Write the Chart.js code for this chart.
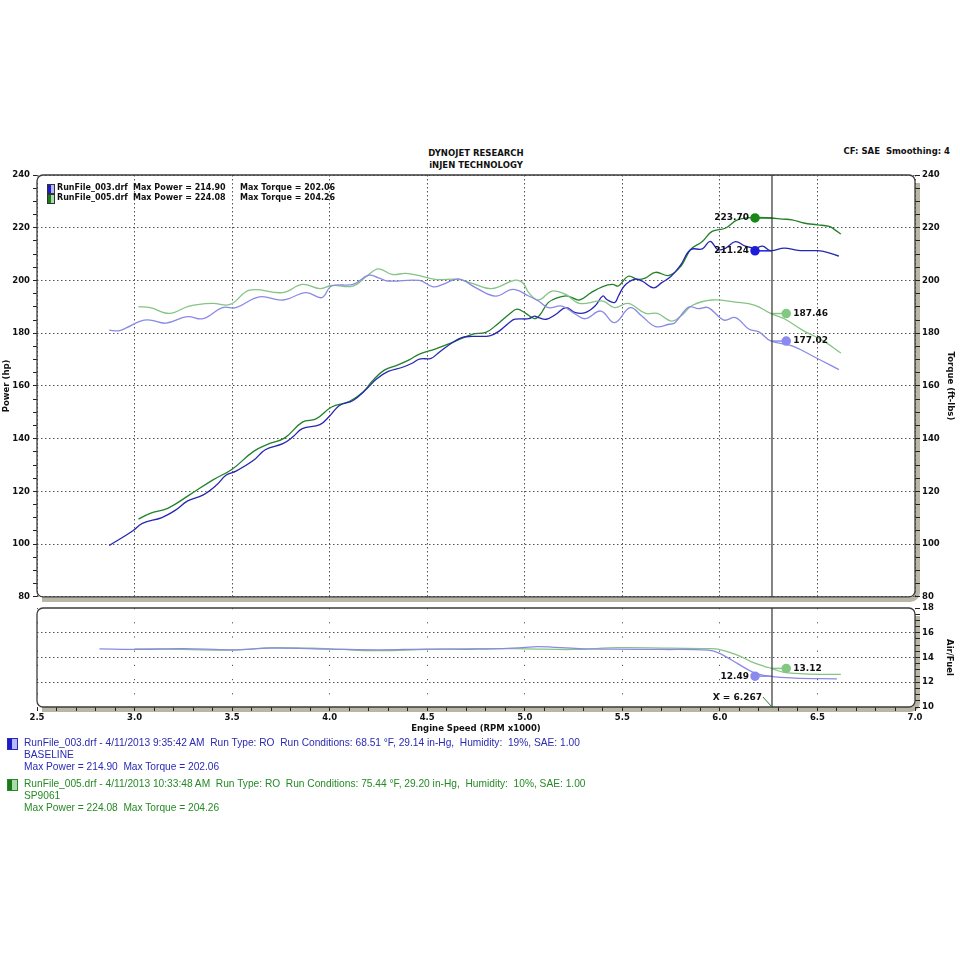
<!DOCTYPE html>
<html>
<head>
<meta charset="utf-8">
<script src="https://cdn.jsdelivr.net/npm/chart.js@4.4.1/dist/chart.umd.min.js"></script>
<style>
  body { margin: 0; width: 960px; height: 960px; background: #fff; position: relative; overflow: hidden; font-family: "DejaVu Sans", sans-serif; }
  .abs { position: absolute; }
  canvas { position: absolute; left: 0; }
  #hdr { left: 0; width: 952px; top: 147px; text-align: center; font-weight: bold; font-size: 8.5px; line-height: 12px; color: #111; }
  #cf { right: 10px; top: 146px; font-weight: bold; font-size: 8.5px; color: #111; white-space: pre; }
  .leg { font-weight: bold; font-size: 8px; color: #111; white-space: pre; line-height: 10px; }
  .icon { width: 6px; height: 8px; border: 1px solid #333; }
  .info { left: 24px; font-family: "Liberation Sans", Arial, sans-serif; font-size: 10.2px; line-height: 12px; white-space: pre; }
  .bicon { width: 9px; height: 10px; }
</style>
</head>
<body>
<div id="hdr" class="abs">DYNOJET RESEARCH<br>iNJEN TECHNOLOGY</div>
<div id="cf" class="abs">CF: SAE  Smoothing: 4</div>
<canvas id="top" width="960" height="445" style="top:160px"></canvas>
<canvas id="afr" width="960" height="140" style="top:600px"></canvas>
<div id="legend"></div>
<div id="info"></div>
<script>
// run info
const runFiles = ['RunFile_003.drf', 'RunFile_005.drf'];
const runNames = ['BASELINE', 'SP9061'];
const runStamps = ['4/11/2013 9:35:42 AM', '4/11/2013 10:33:48 AM'];
const runConditions = ['68.51 °F, 29.14 in-Hg,  Humidity:  19%, SAE: 1.00', '75.44 °F, 29.20 in-Hg,  Humidity:  10%, SAE: 1.00'];
const maxPower = [214.90, 224.08];
const maxTorque = [202.06, 204.26];

// power (hp) vs engine speed (RPM x1000)
const powerRpm003 = [2.87, 2.99, 3.04, 3.14, 3.21, 3.27, 3.35, 3.42, 3.47, 3.52, 3.61, 3.67, 3.76, 3.81, 3.86, 3.95, 4.00, 4.05, 4.12, 4.19, 4.24, 4.30, 4.37, 4.42, 4.46, 4.52, 4.56, 4.63, 4.68, 4.73, 4.82, 4.87, 4.92, 4.95, 5.02, 5.05, 5.07, 5.11, 5.16, 5.21, 5.26, 5.31, 5.36, 5.40, 5.42, 5.46, 5.48, 5.51, 5.56, 5.60, 5.66, 5.70, 5.75, 5.80, 5.85, 5.91, 5.95, 5.99, 6.03, 6.08, 6.13, 6.18, 6.22, 6.26, 6.33, 6.40, 6.50, 6.55, 6.61];
const power003 = [99.5, 105.0, 107.9, 110.1, 112.9, 116.3, 118.6, 122.4, 126.2, 127.7, 131.8, 135.8, 138.1, 140.6, 143.8, 145.3, 148.6, 152.6, 154.5, 158.9, 162.6, 165.5, 167.0, 168.5, 170.2, 170.5, 172.7, 176.5, 178.4, 178.8, 179.0, 180.9, 184.0, 185.3, 185.5, 186.5, 185.9, 185.3, 187.2, 189.7, 187.8, 187.8, 190.3, 194.1, 192.8, 191.6, 194.1, 197.9, 200.4, 199.8, 197.2, 199.1, 201.6, 206.0, 211.7, 212.0, 214.8, 211.7, 212.3, 214.7, 213.0, 212.3, 213.0, 211.3, 212.3, 211.4, 211.3, 210.7, 209.2];
const powerRpm005 = [3.02, 3.08, 3.17, 3.28, 3.40, 3.50, 3.61, 3.69, 3.77, 3.86, 3.93, 4.01, 4.10, 4.17, 4.22, 4.28, 4.35, 4.41, 4.46, 4.54, 4.63, 4.73, 4.80, 4.85, 4.92, 4.96, 5.00, 5.05, 5.08, 5.12, 5.17, 5.22, 5.28, 5.34, 5.40, 5.45, 5.48, 5.53, 5.58, 5.62, 5.67, 5.74, 5.80, 5.85, 5.91, 5.96, 6.03, 6.09, 6.18, 6.26, 6.32, 6.37, 6.43, 6.50, 6.56, 6.59, 6.62];
const power005 = [109.5, 111.7, 113.6, 118.6, 124.3, 128.4, 135.2, 138.1, 140.3, 146.3, 147.5, 152.0, 154.1, 157.6, 162.0, 166.0, 168.0, 170.0, 172.1, 174.0, 176.5, 179.6, 180.3, 182.8, 187.2, 189.1, 187.8, 185.5, 187.2, 191.6, 193.5, 194.1, 192.6, 195.4, 197.7, 198.5, 197.9, 201.6, 200.4, 201.0, 203.1, 201.9, 205.4, 211.7, 214.8, 218.6, 219.9, 223.0, 223.9, 223.7, 223.3, 223.0, 221.8, 221.1, 220.5, 219.2, 217.6];

// torque (ft-lbs)
const torqueRpm003 = [2.87, 2.92, 2.96, 3.03, 3.08, 3.16, 3.27, 3.35, 3.45, 3.52, 3.64, 3.76, 3.88, 3.96, 4.01, 4.12, 4.20, 4.25, 4.30, 4.46, 4.53, 4.58, 4.66, 4.75, 4.85, 4.94, 5.02, 5.07, 5.12, 5.19, 5.26, 5.31, 5.39, 5.46, 5.54, 5.60, 5.67, 5.74, 5.77, 5.84, 5.89, 5.94, 6.02, 6.08, 6.15, 6.20, 6.26, 6.37, 6.49, 6.61];
const torque003 = [181.2, 180.9, 182.1, 184.6, 185.0, 183.8, 186.3, 185.5, 189.7, 189.7, 193.8, 192.6, 195.4, 193.5, 197.9, 198.5, 202.0, 201.0, 199.8, 200.0, 197.6, 198.5, 200.6, 197.2, 194.1, 196.6, 194.1, 192.2, 189.7, 190.3, 187.2, 185.5, 188.4, 184.0, 189.7, 186.5, 182.5, 183.4, 184.0, 189.9, 189.3, 189.7, 185.0, 185.9, 181.5, 180.5, 177.1, 175.2, 170.8, 166.2];
const torqueRpm005 = [3.02, 3.08, 3.18, 3.28, 3.40, 3.49, 3.59, 3.76, 3.86, 3.95, 4.01, 4.12, 4.19, 4.25, 4.32, 4.39, 4.46, 4.54, 4.66, 4.73, 4.83, 4.95, 4.99, 5.02, 5.07, 5.14, 5.21, 5.28, 5.40, 5.46, 5.53, 5.62, 5.68, 5.75, 5.80, 5.86, 5.96, 6.08, 6.18, 6.26, 6.33, 6.43, 6.53, 6.62];
const torque005 = [190.1, 189.7, 187.5, 190.3, 191.3, 190.9, 196.3, 195.4, 198.5, 196.9, 198.1, 197.9, 201.6, 204.4, 202.3, 202.7, 201.8, 200.4, 200.4, 198.9, 196.9, 200.1, 199.1, 195.4, 192.6, 196.0, 194.7, 191.3, 192.2, 189.7, 191.3, 187.5, 187.5, 184.6, 186.5, 190.6, 192.6, 191.8, 190.6, 187.5, 185.5, 180.9, 177.1, 172.5];

// air/fuel ratio
const afrRpm003 = [2.82, 3.00, 3.25, 3.50, 3.70, 4.00, 4.25, 4.50, 4.76, 4.99, 5.07, 5.28, 5.45, 5.70, 5.94, 5.99, 6.06, 6.13, 6.18, 6.26, 6.38, 6.60];
const afr003 = [14.7, 14.65, 14.72, 14.62, 14.75, 14.68, 14.62, 14.68, 14.67, 14.8, 14.88, 14.72, 14.67, 14.65, 14.6, 14.4, 13.8, 13.14, 12.74, 12.47, 12.34, 12.28];
const afrRpm005 = [3.00, 3.25, 3.50, 3.72, 4.00, 4.24, 4.50, 4.76, 5.00, 5.25, 5.48, 5.75, 5.94, 5.99, 6.09, 6.16, 6.23, 6.26, 6.33, 6.43, 6.62];
const afr005 = [14.7, 14.65, 14.6, 14.8, 14.7, 14.55, 14.65, 14.72, 14.7, 14.65, 14.8, 14.75, 14.72, 14.67, 14.2, 13.67, 13.27, 13.14, 12.79, 12.68, 12.63];

// cursor readout
const cursorRpm = 6.267;
const powerTagRpm = [6.18, 6.18];
const powerTagValue = [211.24, 223.70];
const torqueTagRpm = [6.34, 6.34];
const torqueTagValue = [177.02, 187.46];
const afrTagRpm = [6.18, 6.34];
const afrTagValue = [12.49, 13.12];

const DARK_BLUE = '#2626b4';
const DARK_GREEN = '#22812a';
const LIGHT_BLUE = '#8a8ae6';
const LIGHT_GREEN = '#84c484';
const TXT = '#111';
const tickFont = { family: 'DejaVu Sans', size: 8.5, weight: 'bold' };

const pts = (xs, ys) => xs.map((x, i) => ({ x, y: ys[i] }));
const isMult = (v, step) => Math.abs(v / step - Math.round(v / step)) < 1e-6;

// marker with a short leader line to the cursor
const tag = (rpm, val, color, axis) => ({
    data: [{ x: rpm, y: val }, { x: cursorRpm, y: val }],
    borderColor: color,
    backgroundColor: color,
    borderWidth: 1.5,
    tension: 0,
    pointRadius: [4, 0],
    yAxisID: axis,
});

const framePlugin = {
    id: 'frame',
    beforeDraw(chart) {
        const { ctx, chartArea: a } = chart;
        ctx.save();
        ctx.strokeStyle = '#b9b6a6';
        ctx.lineWidth = 5;
        ctx.beginPath();
        ctx.moveTo(a.right + 2.5, a.top + 8);
        ctx.lineTo(a.right + 2.5, a.bottom - 4);
        ctx.arcTo(a.right + 2.5, a.bottom + 2.5, a.right - 4, a.bottom + 2.5, 7);
        ctx.lineTo(a.left + 5, a.bottom + 2.5);
        ctx.stroke();
        ctx.restore();
    },
    afterDatasetsDraw(chart, args, opts) {
        const { ctx, chartArea: a, scales } = chart;
        ctx.save();
        ctx.strokeStyle = '#3c3c3c';
        ctx.lineWidth = 1.3;
        ctx.beginPath();
        ctx.roundRect(a.left, a.top, a.right - a.left, a.bottom - a.top, 6);
        ctx.stroke();

        // cursor line
        const cx = scales.x.getPixelForValue(cursorRpm);
        ctx.strokeStyle = '#333';
        ctx.lineWidth = 1.2;
        ctx.beginPath();
        ctx.moveTo(cx, a.top);
        ctx.lineTo(cx, a.bottom);
        ctx.stroke();

        // readout labels
        ctx.font = 'bold 9px "DejaVu Sans"';
        ctx.fillStyle = TXT;
        ctx.textBaseline = 'middle';
        (opts.labels || []).forEach(l => {
            const px = scales.x.getPixelForValue(l.rpm);
            const py = scales[l.axis].getPixelForValue(l.value);
            ctx.textAlign = l.rpm < cursorRpm ? 'right' : 'left';
            ctx.fillText(l.value.toFixed(2), px + (l.rpm < cursorRpm ? -6 : 7), py);
        });

        if (opts.xLabel) {
            const by = a.bottom;
            ctx.textAlign = 'right';
            ctx.fillText('X = ' + cursorRpm.toFixed(3), cx - 10, by - 9);
            ctx.strokeStyle = DARK_GREEN;
            ctx.lineWidth = 1;
            ctx.beginPath();
            ctx.moveTo(cx - 9, by - 10);
            ctx.lineTo(cx, by);
            ctx.stroke();
        }
        ctx.restore();
    },
};

const topChart = new Chart(document.getElementById('top'), {
    type: 'line',
    data: {
        datasets: [
            { data: pts(torqueRpm003, torque003), borderColor: LIGHT_BLUE, yAxisID: 'y2' },
            { data: pts(torqueRpm005, torque005), borderColor: LIGHT_GREEN, yAxisID: 'y2' },
            { data: pts(powerRpm003, power003), borderColor: DARK_BLUE, yAxisID: 'y' },
            { data: pts(powerRpm005, power005), borderColor: DARK_GREEN, yAxisID: 'y' },
            tag(powerTagRpm[0], powerTagValue[0], '#1c1ce0', 'y'),
            tag(powerTagRpm[1], powerTagValue[1], '#148a14', 'y'),
            tag(torqueTagRpm[0], torqueTagValue[0], '#8a8af0', 'y2'),
            tag(torqueTagRpm[1], torqueTagValue[1], '#82c882', 'y2'),
        ],
    },
    options: {
        responsive: false,
        animation: false,
        elements: { point: { radius: 0 }, line: { borderWidth: 1.3, tension: 0.4 } },
        layout: { padding: { top: 15 } },
        plugins: {
            legend: { display: false },
            tooltip: { enabled: false },
            frame: {
                labels: [
                    { rpm: powerTagRpm[0], value: powerTagValue[0], axis: 'y' },
                    { rpm: powerTagRpm[1], value: powerTagValue[1], axis: 'y' },
                    { rpm: torqueTagRpm[0], value: torqueTagValue[0], axis: 'y2' },
                    { rpm: torqueTagRpm[1], value: torqueTagValue[1], axis: 'y2' },
                ],
            },
        },
        scales: {
            x: {
                type: 'linear', min: 2.5, max: 7.0,
                ticks: { stepSize: 0.1, display: false, autoSkip: false },
                grid: { color: c => isMult(c.tick.value, 0.5) ? '#555' : 'transparent', drawTicks: false, lineWidth: 1 },
                border: { display: false, dash: [1.5, 2.5] },
                afterFit: s => { s.height = 6; },
            },
            y: {
                position: 'left', min: 80, max: 240,
                ticks: { stepSize: 5, autoSkip: false, padding: 3, color: TXT, font: tickFont, callback: v => (v % 20 === 0 ? v : '') },
                grid: { color: c => (c.tick.value % 20 === 0 ? '#555' : 'transparent'), tickLength: 4, tickColor: '#222' },
                border: { display: false, dash: [1.5, 2.5] },
                title: { display: true, text: 'Power (hp)', color: TXT, font: tickFont, padding: { top: 2, bottom: 0 } },
                afterFit: s => { s.width = 37; },
            },
            y2: {
                position: 'right', min: 80, max: 240,
                ticks: { stepSize: 5, autoSkip: false, padding: 2, color: TXT, font: tickFont, callback: v => (v % 20 === 0 ? v : '') },
                grid: { drawOnChartArea: false, tickLength: 5, tickColor: '#222' },
                border: { display: false },
                title: { display: true, text: 'Torque (ft-lbs)', color: TXT, font: tickFont, padding: { top: 5, bottom: 0 } },
                afterFit: s => { s.width = 45; },
            },
        },
    },
    plugins: [framePlugin],
});

const afrChart = new Chart(document.getElementById('afr'), {
    type: 'line',
    data: {
        datasets: [
            { data: pts(afrRpm003, afr003), borderColor: LIGHT_BLUE },
            { data: pts(afrRpm005, afr005), borderColor: LIGHT_GREEN },
            tag(afrTagRpm[0], afrTagValue[0], '#8a8af0', 'y'),
            tag(afrTagRpm[1], afrTagValue[1], '#82c882', 'y'),
        ],
    },
    options: {
        responsive: false,
        animation: false,
        elements: { point: { radius: 0 }, line: { borderWidth: 1.3, tension: 0.4 } },
        layout: { padding: { top: 8, left: 37 } },
        plugins: {
            legend: { display: false },
            tooltip: { enabled: false },
            frame: {
                xLabel: true,
                labels: [
                    { rpm: afrTagRpm[0], value: afrTagValue[0], axis: 'y' },
                    { rpm: afrTagRpm[1], value: afrTagValue[1], axis: 'y' },
                ],
            },
        },
        scales: {
            x: {
                type: 'linear', min: 2.5, max: 7.0,
                ticks: { stepSize: 0.1, autoSkip: false, maxRotation: 0, padding: 2, color: TXT, font: tickFont, callback: v => (isMult(v, 0.5) ? v.toFixed(1) : '') },
                grid: { color: c => isMult(c.tick.value, 0.5) ? '#555' : 'transparent', tickLength: 4, tickColor: '#222' },
                border: { display: false, dash: [1.2, 13] },
                title: { display: true, text: 'Engine Speed (RPM x1000)', color: TXT, font: tickFont, padding: { top: 0, bottom: 6 } },
                afterFit: s => { s.height = 33; },
            },
            y: {
                position: 'right', min: 10, max: 18,
                ticks: { stepSize: 0.5, autoSkip: false, padding: 2, color: TXT, font: tickFont, callback: v => (isMult(v, 2) ? v : '') },
                grid: { color: c => (isMult(c.tick.value, 2) && c.tick.value > 10 && c.tick.value < 18 ? '#555' : 'transparent'), tickLength: 5, tickColor: '#222' },
                border: { display: false, dash: [1.5, 2.5] },
                title: { display: true, text: 'Air/Fuel', color: TXT, font: tickFont, padding: { top: 6, bottom: 0 } },
                afterFit: s => { s.width = 45; },
            },
        },
    },
    plugins: [framePlugin],
});

// legend inside the upper panel
const legendColors = [['#1c1cc8', '#b8b8ff'], ['#1a7a1a', '#a8dca8']];
const legend = document.getElementById('legend');
runFiles.forEach((f, i) => {
    const y = 184 + i * 10;
    legend.innerHTML +=
        `<div class="abs icon" style="left:47px;top:${y}px;background:linear-gradient(to right, ${legendColors[i][0]} 50%, ${legendColors[i][1]} 50%)"></div>` +
        `<div class="abs leg" style="left:57px;top:${y - 1}px">${f}</div>` +
        `<div class="abs leg" style="left:133px;top:${y - 1}px">Max Power = ${maxPower[i].toFixed(2)}</div>` +
        `<div class="abs leg" style="left:240px;top:${y - 1}px">Max Torque = ${maxTorque[i].toFixed(2)}</div>`;
});

// run info below the chart
const infoColors = ['#2a2ab4', '#258a25'];
const info = document.getElementById('info');
runFiles.forEach((f, i) => {
    const y = 738 + i * 41;
    info.innerHTML +=
        `<div class="abs bicon" style="left:7px;top:${y}px;border:1px solid ${infoColors[i]};background:linear-gradient(to right, ${legendColors[i][0]} 50%, ${legendColors[i][1]} 50%)"></div>` +
        `<div class="abs info" style="top:${y - 1}px;color:${infoColors[i]}">${f} - ${runStamps[i]}  Run Type: RO  Run Conditions: ${runConditions[i]}\n${runNames[i]}\nMax Power = ${maxPower[i].toFixed(2)}  Max Torque = ${maxTorque[i].toFixed(2)}</div>`;
});
</script>
</body>
</html>
